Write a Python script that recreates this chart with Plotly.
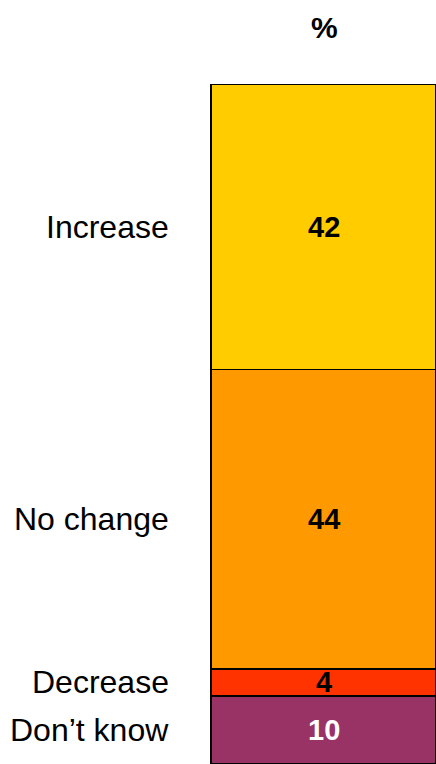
import plotly.graph_objects as go

# Survey responses, stacked top to bottom in one bar (percent)
categories = ["Increase", "No change", "Decrease", "Don\u2019t know"]
values = [42, 44, 4, 10]
colors = ["#FFCC00", "#FF9900", "#FF3300", "#993366"]
value_font_colors = ["black", "black", "black", "white"]

fig = go.Figure()
for cat, val, col in zip(categories, values, colors):
    fig.add_trace(go.Bar(
        x=[0.5], y=[val], width=[1.0], name=cat,
        marker=dict(color=col, line=dict(color="black", width=1.6)),
        hoverinfo="skip",
    ))

annotations = []
start = 0
for cat, val, fc in zip(categories, values, value_font_colors):
    mid = start + val / 2
    # value inside the segment
    annotations.append(dict(
        x=0.5, y=mid, xref="x", yref="y", text=f"<b>{val}</b>", showarrow=False,
        font=dict(family="Liberation Sans, Arial", size=29, color=fc),
        xanchor="center", yanchor="middle",
    ))
    # category label to the left of the bar
    annotations.append(dict(
        x=-0.168, y=mid, xref="paper", yref="y", text=cat, showarrow=False,
        font=dict(family="Liberation Sans, Arial", size=32, color="black"),
        xanchor="right", yanchor="middle",
    ))
    start += val

annotations.append(dict(
    x=0.511, y=1.0824, xref="paper", yref="paper", text="<b>%</b>", showarrow=False,
    font=dict(family="Liberation Sans, Arial", size=30, color="black"),
    xanchor="center", yanchor="middle",
))

fig.update_layout(
    width=436, height=764,
    margin=dict(l=209, r=0, t=84, b=0),
    barmode="stack",
    showlegend=False,
    plot_bgcolor="white", paper_bgcolor="white",
    xaxis=dict(range=[-0.01, 1.0], visible=False, fixedrange=True),
    yaxis=dict(range=[100, 0], visible=False, fixedrange=True),
    annotations=annotations,
)

fig.write_html("out.html", config={"displayModeBar": False})
